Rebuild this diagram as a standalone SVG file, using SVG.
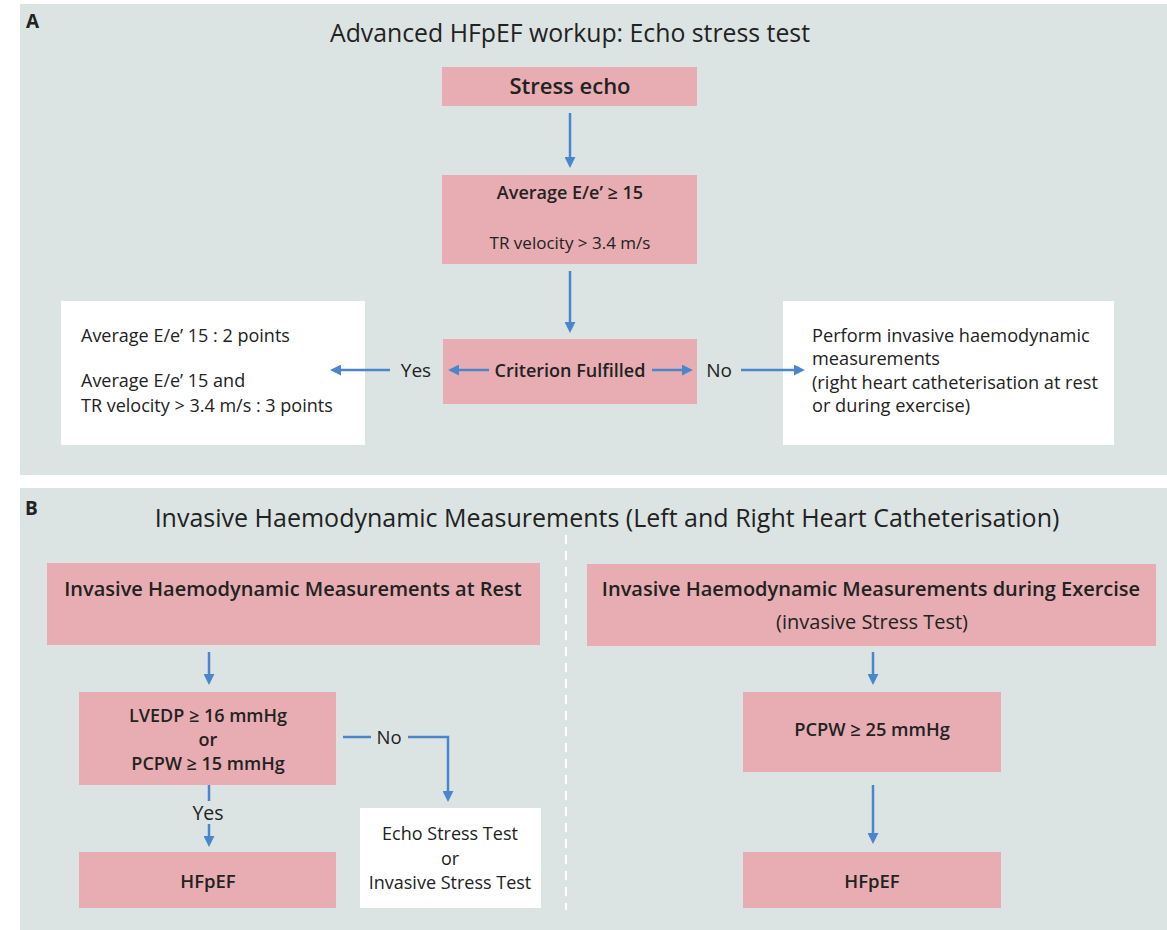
<svg xmlns="http://www.w3.org/2000/svg" width="1167" height="930" viewBox="0 0 1167 930">
<defs>
<style>
.panel{fill:#dce4e3}
.pink{fill:#e8adb2}
.white{fill:#ffffff}
.t{font-family:"Open Sans","Noto Sans","Liberation Sans",sans-serif;fill:#222222}
.c{text-anchor:middle}
.b{font-weight:600}
.m{font-weight:500}
.conn{stroke:#4a86cc;stroke-width:2.5;fill:none}
</style>
<marker id="ah" viewBox="0 0 10 10" refX="1" refY="5" markerUnits="userSpaceOnUse" markerWidth="11" markerHeight="11" orient="auto">
<path d="M0,0 L10,5 L0,10 z" fill="#4a86cc"/>
</marker>
</defs>
<rect width="1167" height="930" fill="#ffffff"/>
<rect class="panel" x="20" y="4" width="1147" height="471"/>
<rect class="panel" x="20" y="488" width="1147" height="442"/>
<text class="t" x="26" y="28" font-size="19" font-weight="bold">A</text>
<text class="t c" x="570" y="42" font-size="24.8">Advanced HFpEF workup: Echo stress test</text>
<text class="t" x="25" y="515" font-size="19" font-weight="bold">B</text>
<text class="t c" x="607" y="527" font-size="25">Invasive Haemodynamic Measurements (Left and Right Heart Catheterisation)</text>
<line x1="566" y1="535" x2="566" y2="910" stroke="#ffffff" stroke-width="2" stroke-dasharray="9,7"/>

<g id="n-stress-echo">
<rect class="pink" x="442" y="67" width="255" height="39"/>
<text class="t c b" x="570" y="94" font-size="22">Stress echo</text>
</g>
<g id="n-criteria">
<rect class="pink" x="442" y="175" width="255" height="89"/>
<text class="t c b" x="570" y="199" font-size="18">Average E/e’ ≥ 15</text>
<text class="t c" x="570" y="249" font-size="17">TR velocity &gt; 3.4 m/s</text>
</g>
<g id="n-criterion-fulfilled">
<rect class="pink" x="443" y="339" width="254" height="65"/>
<text class="t c b" x="570" y="377" font-size="18">Criterion Fulfilled</text>
</g>
<g id="n-points">
<rect class="white" x="61" y="301" width="304" height="144"/>
<text class="t" x="81" y="342" font-size="18">Average E/e’ 15 : 2 points</text>
<text class="t" x="81" y="387" font-size="18">Average E/e’ 15 and</text>
<text class="t" x="81" y="412" font-size="18">TR velocity &gt; 3.4 m/s : 3 points</text>
</g>
<g id="n-perform-invasive">
<rect class="white" x="783" y="301" width="331" height="144"/>
<text class="t" x="812" y="342" font-size="18.2">Perform invasive haemodynamic</text>
<text class="t" x="812" y="365" font-size="18.2">measurements</text>
<text class="t" x="812" y="389" font-size="18.2">(right heart catheterisation at rest</text>
<text class="t" x="812" y="412" font-size="18.2">or during exercise)</text>
</g>

<g id="n-rest">
<rect class="pink" x="47" y="563" width="493" height="82"/>
<text class="t c b" x="293" y="596" font-size="20">Invasive Haemodynamic Measurements at Rest</text>
</g>
<g id="n-lvedp">
<rect class="pink" x="79" y="692" width="257" height="93"/>
<text class="t c b" x="208" y="722" font-size="18">LVEDP ≥ 16 mmHg</text>
<text class="t c b" x="208" y="746" font-size="18">or</text>
<text class="t c b" x="208" y="770" font-size="18">PCPW ≥ 15 mmHg</text>
</g>
<g id="n-hfpef-left">
<rect class="pink" x="79" y="852" width="257" height="56"/>
<text class="t c b" x="208" y="888" font-size="18.5">HFpEF</text>
</g>
<g id="n-stress-test">
<rect class="white" x="360" y="808" width="181" height="100"/>
<text class="t c" x="450" y="840" font-size="18">Echo Stress Test</text>
<text class="t c" x="450" y="865" font-size="18">or</text>
<text class="t c" x="450" y="889" font-size="18">Invasive Stress Test</text>
</g>
<g id="n-exercise">
<rect class="pink" x="587" y="564" width="569" height="82"/>
<text class="t c b" x="871" y="596" font-size="20">Invasive Haemodynamic Measurements during Exercise</text>
<text class="t c" x="872" y="629" font-size="20">(invasive Stress Test)</text>
</g>
<g id="n-pcpw">
<rect class="pink" x="743" y="692" width="258" height="80"/>
<text class="t c b" x="872" y="736" font-size="18.3">PCPW ≥ 25 mmHg</text>
</g>
<g id="n-hfpef-right">
<rect class="pink" x="743" y="852" width="258" height="56"/>
<text class="t c b" x="872" y="888" font-size="18.5">HFpEF</text>
</g>

<g id="connectors">
<path class="conn" d="M570,113 V158" marker-end="url(#ah)"/>
<path class="conn" d="M570,271 V323" marker-end="url(#ah)"/>
<path class="conn" d="M489,370 H458" marker-end="url(#ah)"/>
<path class="conn" d="M652,370 H683" marker-end="url(#ah)"/>
<path class="conn" d="M390,370 H340" marker-end="url(#ah)"/>
<path class="conn" d="M741,370 H795" marker-end="url(#ah)"/>
<text class="t c m" x="416" y="377" font-size="19">Yes</text>
<text class="t c m" x="719" y="377" font-size="19">No</text>
<path class="conn" d="M209,785 V801"/>
<path class="conn" d="M209,824 V837" marker-end="url(#ah)"/>
<text class="t c m" x="208" y="820" font-size="19.5">Yes</text>
<path class="conn" d="M209,652 V675" marker-end="url(#ah)"/>
<path class="conn" d="M343,737 H371"/>
<path class="conn" d="M408,737 H448 V792" marker-end="url(#ah)"/>
<text class="t c m" x="389" y="744" font-size="18.5">No</text>
<path class="conn" d="M873,652 V675" marker-end="url(#ah)"/>
<path class="conn" d="M873,785 V834" marker-end="url(#ah)"/>
</g>
</svg>
